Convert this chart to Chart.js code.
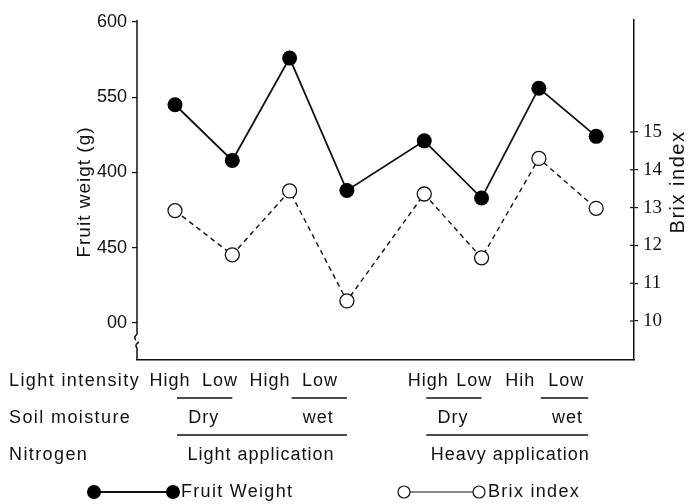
<!DOCTYPE html>
<html>
<head>
<meta charset="utf-8">
<script src="https://cdn.jsdelivr.net/npm/chart.js@4.4.1/dist/chart.umd.min.js"></script>
<style>
  html, body { margin: 0; padding: 0; background: #fff; }
  #wrap { width: 689px; height: 504px; }
</style>
</head>
<body>
<div id="wrap"><canvas id="chart" width="689" height="504"></canvas></div>
<script>
// treatments, left to right (gap between nitrogen groups)
const lightIntensity = ["High", "Low", "High", "Low", "High", "Low", "Hih", "Low"];
const soilMoisture = ["Dry", "wet", "Dry", "wet"];
const nitrogen = ["Light application", "Heavy application"];
const xPos = [1, 2, 3, 4, 5.35, 6.35, 7.35, 8.35];

const fruitWeight = [545, 508, 576, 488, 521, 483, 556, 524];
const brixIndex = [12.92, 11.75, 13.44, 10.53, 13.36, 11.67, 14.3, 12.98];

const weightTicks = [400, 450, 500, 550, 600];
const weightTickLabels = ["00", "450", "400", "550", "600"];
const brixTicks = [10, 11, 12, 13, 14, 15];

const SANS = "'Liberation Sans', Arial, sans-serif";
const SERIF = "'Liberation Serif', 'Times New Roman', serif";

function txt(ctx, s, x, y, align, size, spacing, font) {
    ctx.save();
    ctx.font = size + "px " + (font || SANS);
    ctx.letterSpacing = (spacing || 0) + "px";
    ctx.fillStyle = "#111";
    ctx.textAlign = align;
    ctx.textBaseline = "middle";
    ctx.fillText(s, x, y);
    ctx.restore();
}

function hline(ctx, x1, x2, y) {
    ctx.beginPath();
    ctx.moveTo(x1, y);
    ctx.lineTo(x2, y);
    ctx.stroke();
}

const decor = {
    id: "decor",
    afterDraw(chart) {
        const ctx = chart.ctx;
        const area = chart.chartArea;
        const xs = chart.scales.x;
        const yR = chart.scales.y2;
        const px = i => xs.getPixelForValue(xPos[i]);

        ctx.save();
        ctx.strokeStyle = "#111";
        ctx.lineWidth = 1.5;

        // left axis with break near the bottom
        ctx.beginPath();
        ctx.moveTo(area.left, area.top);
        ctx.lineTo(area.left, area.bottom - 26);
        ctx.quadraticCurveTo(area.left - 4, area.bottom - 22, area.left - 1, area.bottom - 20);
        ctx.stroke();
        ctx.beginPath();
        ctx.moveTo(area.left + 2, area.bottom - 18);
        ctx.quadraticCurveTo(area.left - 3, area.bottom - 15, area.left, area.bottom - 12);
        ctx.lineTo(area.left, area.bottom);
        ctx.stroke();

        // right axis: ticks cross the axis
        ctx.lineWidth = 1.2;
        brixTicks.forEach(v => {
            const y = yR.getPixelForValue(v);
            hline(ctx, area.right - 4, area.right, y);
        });

        // axis titles
        ctx.save();
        ctx.translate(85, 192);
        ctx.rotate(-Math.PI / 2);
        txt(ctx, "Fruit weigt (g)", 0, 0, "center", 19, 1);
        ctx.restore();
        ctx.save();
        ctx.translate(678, 182);
        ctx.rotate(-Math.PI / 2);
        txt(ctx, "Brix index", 0, 0, "center", 20, 1.5);
        ctx.restore();

        // treatment rows
        const rowY = [381, 418, 455, 492];
        txt(ctx, "Light intensity", 9, rowY[0], "left", 18, 1.4);
        txt(ctx, "Soil moisture", 9, rowY[1], "left", 18, 1.4);
        txt(ctx, "Nitrogen", 9, rowY[2], "left", 18, 1.4);

        // light intensity labels, spread evenly inside each nitrogen group
        [[0, -5, -27], [4, 4, -30]].forEach(([s, a, b]) => {
            const x0 = px(s) + a, x1 = px(s + 3) + b;
            for (let k = 0; k < 4; k++) {
                txt(ctx, lightIntensity[s + k], x0 + (x1 - x0) * k / 3, rowY[0], "center", 18, 1);
            }
        });

        ctx.lineWidth = 1.3;
        // underline High/Low pairs
        for (let p = 0; p < 4; p++) {
            const i = p * 2;
            hline(ctx, px(i) + 2, px(i + 1) - (p === 3 ? 8 : 0), rowY[0] + 17);
        }
        // soil moisture labels
        for (let p = 0; p < 4; p++) {
            const i = p * 2;
            txt(ctx, soilMoisture[p], (px(i) + px(i + 1)) / 2, rowY[1], "center", 18, 1);
        }
        // underline moisture pairs inside each nitrogen group
        hline(ctx, px(0) + 2, px(3), rowY[1] + 17);
        hline(ctx, px(4) + 2, px(7) - 8, rowY[1] + 17);
        // nitrogen labels
        txt(ctx, nitrogen[0], (px(0) + px(3)) / 2, rowY[2], "center", 18, 1);
        txt(ctx, nitrogen[1], (px(4) + px(7)) / 2, rowY[2], "center", 18, 1);

        // legend
        const ly = rowY[3];
        ctx.lineWidth = 1.8;
        hline(ctx, 94, 173, ly);
        ctx.fillStyle = "#000";
        [94, 173].forEach(x => {
            ctx.beginPath();
            ctx.arc(x, ly, 7, 0, Math.PI * 2);
            ctx.fill();
        });
        txt(ctx, "Fruit Weight", 181, ly, "left", 18, 1.3);

        ctx.lineWidth = 1.2;
        hline(ctx, 410, 473, ly);
        ctx.fillStyle = "#fff";
        [404, 479].forEach(x => {
            ctx.beginPath();
            ctx.arc(x, ly, 6, 0, Math.PI * 2);
            ctx.fill();
            ctx.stroke();
        });
        txt(ctx, "Brix index", 488, ly, "left", 18, 1.3);

        ctx.restore();
    }
};

new Chart(document.getElementById("chart"), {
    type: "line",
    data: {
        datasets: [
            {
                label: "Fruit Weight",
                data: xPos.map((x, i) => ({ x, y: fruitWeight[i] })),
                yAxisID: "y",
                borderColor: "#111",
                borderWidth: 1.8,
                pointRadius: 7.5,
                pointBackgroundColor: "#000",
                pointBorderColor: "#000",
                pointBorderWidth: 0,
                tension: 0
            },
            {
                label: "Brix index",
                data: xPos.map((x, i) => ({ x, y: brixIndex[i] })),
                yAxisID: "y2",
                borderColor: "#111",
                borderWidth: 1.4,
                borderDash: [5, 4],
                pointRadius: 7,
                pointBackgroundColor: "#fff",
                pointBorderColor: "#111",
                pointBorderWidth: 1.3,
                tension: 0
            }
        ]
    },
    options: {
        responsive: false,
        animation: false,
        layout: { padding: { top: 20, left: 0, right: 0, bottom: 0 } },
        plugins: { legend: { display: false }, tooltip: { enabled: false } },
        scales: {
            x: {
                type: "linear",
                min: 0.337,
                max: 9.01,
                ticks: { display: false },
                grid: { display: false },
                border: { display: true, color: "#111", width: 1.5 },
                afterFit: s => { s.height = 144; }
            },
            y: {
                position: "left",
                min: 375.4,
                max: 601.3,
                afterBuildTicks: s => { s.ticks = weightTicks.map(v => ({ value: v })); },
                ticks: {
                    color: "#111",
                    padding: 5,
                    font: { family: SANS, size: 18 },
                    callback: (v) => weightTickLabels[weightTicks.indexOf(v)]
                },
                grid: { drawOnChartArea: false, color: "#111", tickLength: 5, lineWidth: 1.2 },
                border: { display: false },
                afterFit: s => { s.width = 137; }
            },
            y2: {
                position: "right",
                min: 8.968,
                max: 17.963,
                afterBuildTicks: s => { s.ticks = brixTicks.map(v => ({ value: v })); },
                ticks: {
                    color: "#111",
                    padding: 5,
                    font: { family: SERIF, size: 19 },
                    callback: v => String(v)
                },
                grid: { drawOnChartArea: false, color: "#111", tickLength: 4, lineWidth: 1.2 },
                border: { display: true, color: "#111", width: 1.5 },
                afterFit: s => { s.width = 55; }
            }
        }
    },
    plugins: [decor]
});
</script>
</body>
</html>
